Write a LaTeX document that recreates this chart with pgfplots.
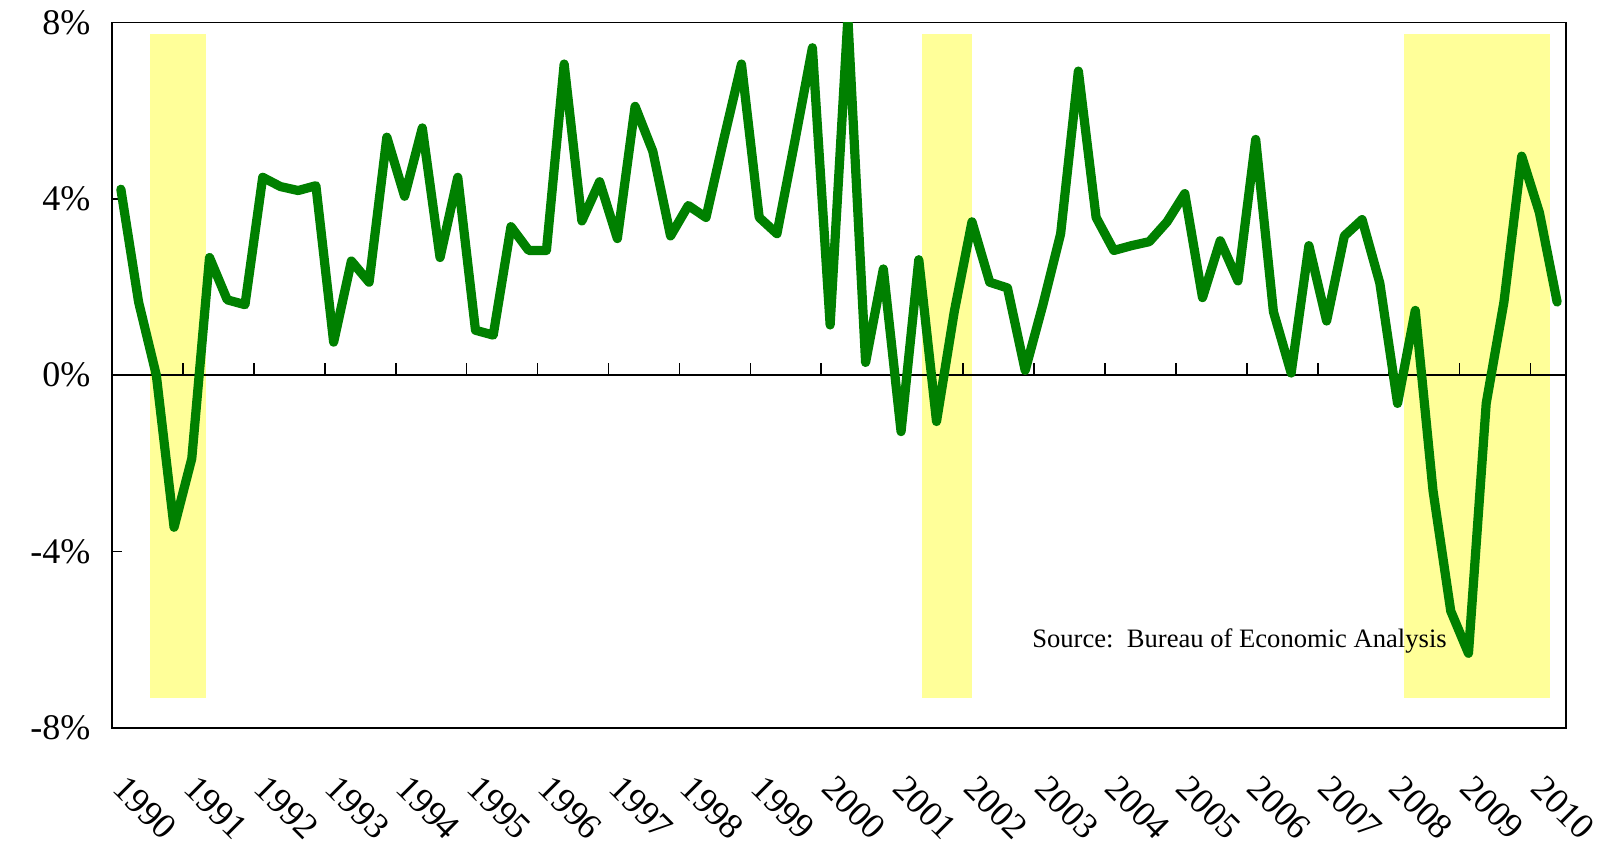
\documentclass[border=0pt]{standalone}
\usepackage{pgfplots}
\pgfplotsset{compat=1.18}
\usepackage{fontspec}
\setmainfont{Liberation Serif}
\definecolor{gdpgreen}{HTML}{008000}
\definecolor{recession}{HTML}{FFFF99}

\begin{document}
\begin{tikzpicture}
\path[use as bounding box] (-56pt,-58.65pt) rectangle (751pt,363.9pt);
\begin{axis}[
    at={(0,0)}, anchor=south west,
    width=727pt, height=352.6pt, scale only axis,
    xmin=1990, xmax=2010.5,
    ymin=-8, ymax=8,
    xtick={1990,...,2010},
    ytick={-8,-4,0,4,8},
    ytick pos=left,
    tick align=inside,
    major tick length=5pt,
    x tick style={draw=none},
    y tick style={black, line width=0.8pt},
    axis line style={black, line width=0.8pt},
    /pgf/number format/assume math mode=true,
    xticklabel style={font=\fontsize{18}{18}\selectfont, xshift=8pt, yshift=-18pt, rotate=-45, anchor=north west},
    x tick label style={/pgf/number format/set thousands separator={}},
    yticklabel={\pgfmathprintnumber{\tick}\%},
    yticklabel style={font=\fontsize{18}{18}\selectfont, xshift=-7.3pt},
    clip=true,
]
% recession shading
\addplot[draw=none, fill=recession] coordinates {(1990.53,-7.33) (1990.53,7.75) (1991.32,7.75) (1991.32,-7.33)} -- cycle;
\addplot[draw=none, fill=recession] coordinates {(2001.42,-7.33) (2001.42,7.75) (2002.12,7.75) (2002.12,-7.33)} -- cycle;
\addplot[draw=none, fill=recession] coordinates {(2008.22,-7.33) (2008.22,7.75) (2010.28,7.75) (2010.28,-7.33)} -- cycle;
% zero line and year ticks
\addplot[black, line width=0.8pt] coordinates {(1990,0) (2010.5,0)};
\addplot[black, line width=0.8pt, ycomb, mark=none] coordinates {
    (1991,0.28) (1992,0.28) (1993,0.28) (1994,0.28) (1995,0.28) (1996,0.28) (1997,0.28)
    (1998,0.28) (1999,0.28) (2000,0.28) (2001,0.28) (2002,0.28) (2003,0.28) (2004,0.28)
    (2005,0.28) (2006,0.28) (2007,0.28) (2008,0.28) (2009,0.28) (2010,0.28)
};
% real GDP growth, quarterly
\addplot[gdpgreen, line width=4.6pt, line join=round, line cap=round, mark=none] coordinates {
    (1990.125,4.22) (1990.375,1.66) (1990.625,0.00) (1990.875,-3.45)
    (1991.125,-1.89) (1991.375,2.67) (1991.625,1.71) (1991.875,1.60)
    (1992.125,4.49) (1992.375,4.28) (1992.625,4.19) (1992.875,4.30)
    (1993.125,0.75) (1993.375,2.59) (1993.625,2.11) (1993.875,5.40)
    (1994.125,4.06) (1994.375,5.61) (1994.625,2.67) (1994.875,4.49)
    (1995.125,1.02) (1995.375,0.91) (1995.625,3.37) (1995.875,2.83)
    (1996.125,2.83) (1996.375,7.06) (1996.625,3.50) (1996.875,4.39)
    (1997.125,3.10) (1997.375,6.10) (1997.625,5.08) (1997.875,3.16)
    (1998.125,3.85) (1998.375,3.58) (1998.625,5.35) (1998.875,7.06)
    (1999.125,3.58) (1999.375,3.21) (1999.625,5.29) (1999.875,7.43)
    (2000.125,1.14) (2000.375,8.10) (2000.625,0.29) (2000.875,2.41)
    (2001.125,-1.28) (2001.375,2.62) (2001.625,-1.05) (2001.875,1.44)
    (2002.125,3.48) (2002.375,2.11) (2002.625,1.98) (2002.875,0.11)
    (2003.125,1.60) (2003.375,3.21) (2003.625,6.90) (2003.875,3.58)
    (2004.125,2.83) (2004.375,2.94) (2004.625,3.03) (2004.875,3.48)
    (2005.125,4.12) (2005.375,1.76) (2005.625,3.05) (2005.875,2.14)
    (2006.125,5.35) (2006.375,1.44) (2006.625,0.05) (2006.875,2.94)
    (2007.125,1.23) (2007.375,3.16) (2007.625,3.53) (2007.875,2.09)
    (2008.125,-0.64) (2008.375,1.47) (2008.625,-2.62) (2008.875,-5.35)
    (2009.125,-6.31) (2009.375,-0.64) (2009.625,1.66) (2009.875,4.97)
    (2010.125,3.69) (2010.375,1.66)
};
\node[anchor=west, inner sep=0pt, font=\fontsize{13.3}{14}\selectfont] at (axis cs:2002.97,-6.03) {Source:\ \ Bureau of Economic Analysis};
\end{axis}
\end{tikzpicture}
\end{document}
